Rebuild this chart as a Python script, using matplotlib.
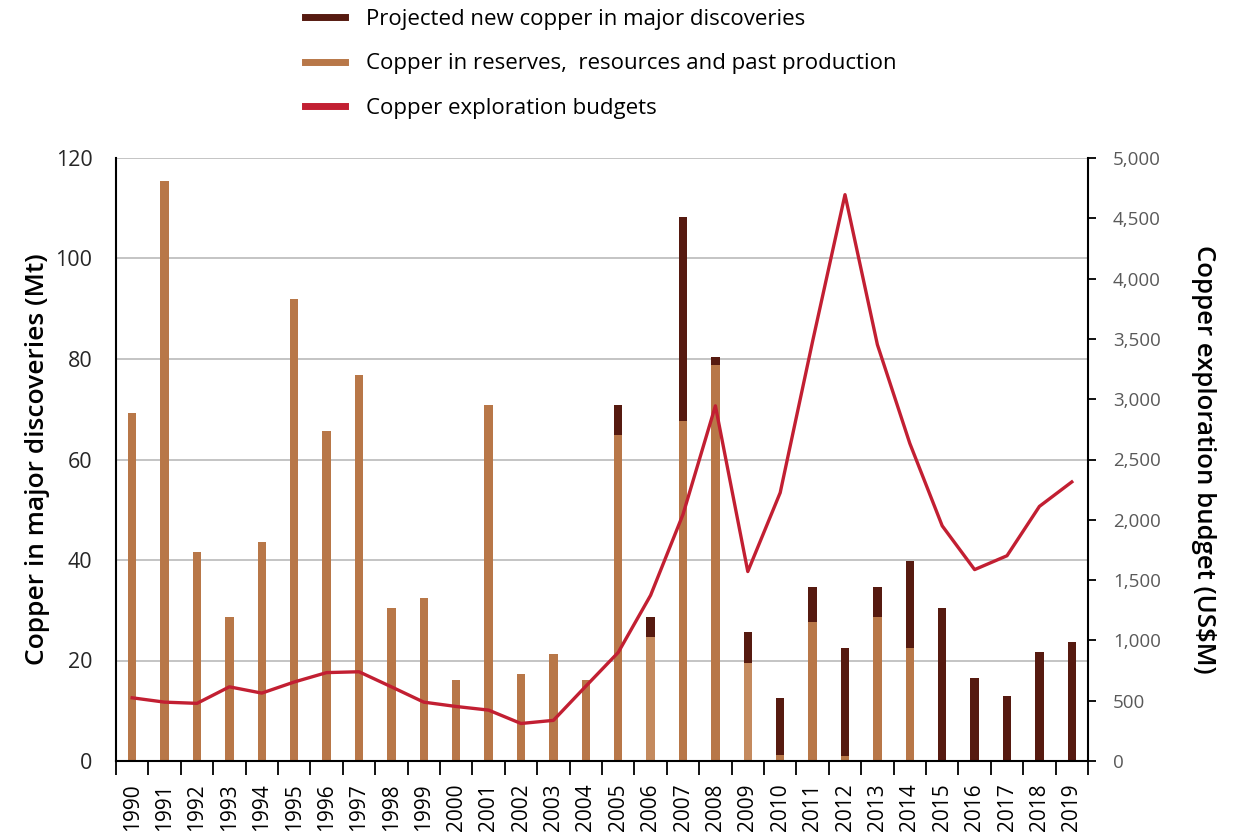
import numpy as np
import matplotlib.pyplot as plt
from matplotlib.lines import Line2D

plt.rcParams['font.family'] = ['Open Sans', 'DejaVu Sans']

years = [str(y) for y in range(1990, 2020)]

# copper in reserves, resources and past production (Mt)
reserves = [69.3, 115.4, 41.5, 28.7, 43.5, 92.0, 65.7, 76.8, 30.4, 32.4,
            16.1, 70.9, 17.3, 21.2, 16.1, 64.8, 24.6, 67.6, 78.9, 19.6,
            1.2, 27.6, 0.9, 28.7, 22.5, 0, 0, 0, 0, 0]
# projected new copper in major discoveries (Mt)
projected = [0, 0, 0, 0, 0, 0, 0, 0, 0, 0,
             0, 0, 0, 0, 0, 6.1, 4.1, 40.6, 1.5, 6.0,
             11.3, 7.1, 21.6, 6.0, 17.4, 30.4, 16.5, 12.9, 21.6, 23.6]
# copper exploration budgets (US$M)
budget = [524, 488, 478, 615, 563, 655, 733, 740, 615, 488,
          452, 422, 311, 337, 620, 900, 1374, 2045, 2945, 1571,
          2225, 3480, 4696, 3452, 2634, 1950, 1587, 1702, 2111, 2314]

c_dark = '#561A10'
c_orange = '#B87748'
c_light = '#C48A5E'
c_red = '#C21F32'

fig = plt.figure(figsize=(12.51, 8.32), dpi=100)
ax = fig.add_axes([116 / 1251, 1 - 761 / 832, (1088 - 116) / 1251, (761 - 158) / 832])

x = np.arange(len(years))
bar_cols = [c_light if y in ('2006', '2009') else c_orange for y in years]
ax.bar(x, reserves, width=0.26, color=bar_cols, zorder=2)
ax.bar(x, projected, width=0.26, bottom=reserves, color=c_dark, zorder=2)

ax.set_xlim(-0.5, len(years) - 0.5)
ax.set_ylim(0, 120)
ax.set_yticks(range(0, 121, 20))
ax.yaxis.grid(True, color='#BFBFBF', lw=1.3, zorder=0)
ax.set_axisbelow(True)
ax.tick_params(axis='y', length=0, labelsize=15.5, pad=17, labelcolor='#262626')
ax.set_xticks(x)
ax.set_xticklabels(years, rotation=90, fontsize=15)
ax.set_xticks(np.arange(-0.5, len(years)), minor=True)
ax.tick_params(axis='x', which='major', length=0, pad=16)
ax.tick_params(axis='x', which='minor', length=10, width=1.3, direction='out')
for s in ['top', 'right']:
    ax.spines[s].set_visible(False)
for s in ['left', 'bottom']:
    ax.spines[s].set_linewidth(1.5)
ax.set_ylabel('Copper in major discoveries (Mt)', fontsize=19, fontweight='semibold', labelpad=4)

ax2 = ax.twinx()
ax2.plot(x, budget, color=c_red, lw=2.4, zorder=3)
ax2.set_ylim(0, 5000)
ax2.set_yticks(range(0, 5001, 500))
ax2.set_yticklabels([f'{v:,}' for v in range(0, 5001, 500)])
ax2.tick_params(axis='y', length=6, width=1.3, labelsize=13.5, pad=12, labelcolor='#595959')
for s in ['top', 'left', 'bottom']:
    ax2.spines[s].set_visible(False)
ax2.spines['right'].set_linewidth(1.5)
ax2.set_ylabel('Copper exploration budget (US$M)', fontsize=18.5, fontweight='semibold',
               rotation=270, labelpad=40)

handles = [Line2D([], [], color=c_dark, lw=5),
           Line2D([], [], color=c_orange, lw=5),
           Line2D([], [], color=c_red, lw=5)]
labels = ['Projected new copper in major discoveries',
          'Copper in reserves,  resources and past production',
          'Copper exploration budgets']
fig.legend(handles, labels, loc='upper left', bbox_to_anchor=(305 / 1251, 1 - 9 / 832),
           frameon=False, fontsize=16, handlelength=1.8, handletextpad=0.95,
           labelspacing=1.05, borderpad=0, borderaxespad=0)

fig.savefig('out.png', dpi=100)
